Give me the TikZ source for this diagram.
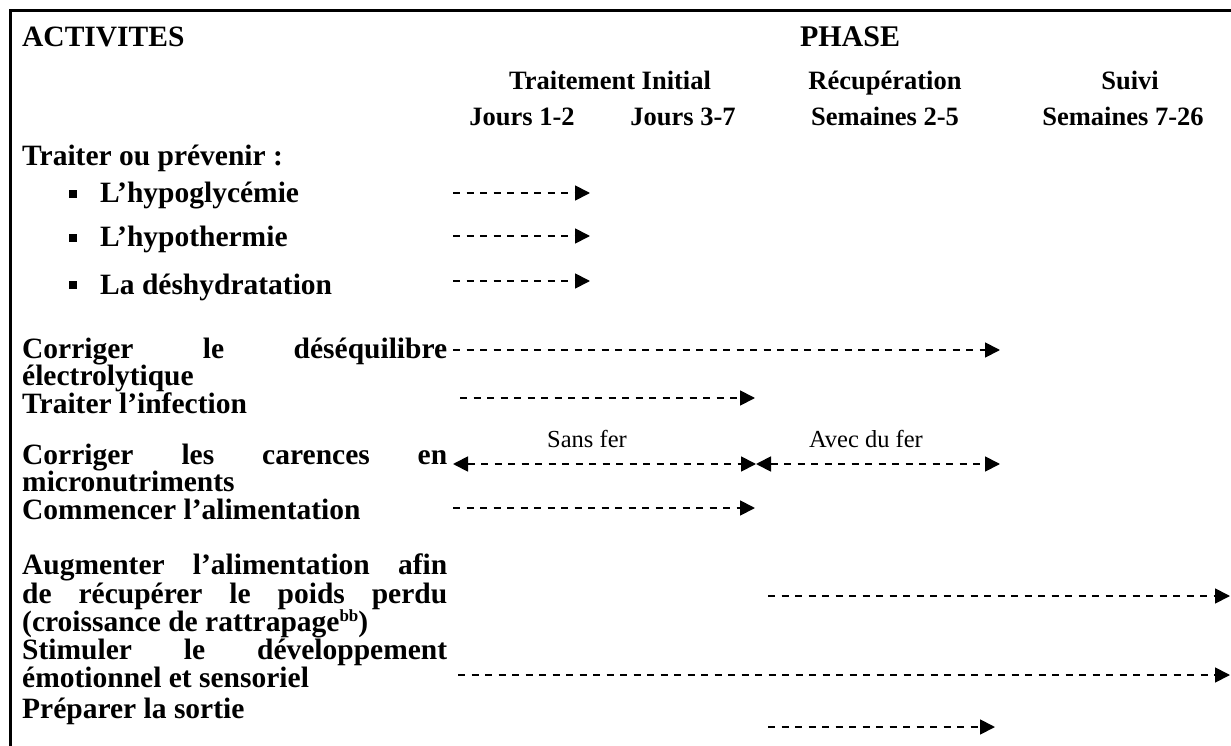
\documentclass[tikz,border=0pt]{standalone}
\usepackage{fontspec}
\setmainfont{Liberation Serif}
\usetikzlibrary{arrows.meta}
\begin{document}
\begin{tikzpicture}[x=1pt,y=-1pt,
  lbl/.style={anchor=base west, inner sep=0pt, font=\fontsize{29.5}{29.5}\selectfont\bfseries},
  head/.style={anchor=base, inner sep=0pt, font=\fontsize{30}{30}\selectfont\bfseries},
  sub/.style={anchor=base, inner sep=0pt, font=\fontsize{26.5}{26.5}\selectfont\bfseries},
  note/.style={anchor=base, inner sep=0pt, font=\fontsize{24.5}{24.5}\selectfont},
  bul/.style={fill=black, inner sep=0pt, minimum size=7.5pt, rectangle},
  period/.style={line width=1.8pt, dash pattern=on 7pt off 6.5pt,
    -{Triangle[length=15pt,width=15pt]}},
  both/.style={line width=1.8pt, dash pattern=on 7pt off 6.5pt,
    {Triangle[length=15pt,width=15pt]}-{Triangle[length=15pt,width=15pt]}}
]
\fill[white] (0,0) rectangle (1231,746);
\useasboundingbox (0,0) rectangle (1231,746);

% frame
\draw[line width=2.8pt, line join=miter] (10.5,746) -- (10.5,10.5) -- (1231,10.5);

% header
\node[lbl]  (act)   at (22,47)   {ACTIVITES};
\node[head] (phase) at (850,47)  {PHASE};
\node[sub]  (ti)    at (610,90)  {Traitement Initial};
\node[sub]  (rec)   at (885,90)  {Récupération};
\node[sub]  (suivi) at (1130,90) {Suivi};
\node[sub]  (j12)   at (522,126) {Jours 1-2};
\node[sub]  (j37)   at (683,126) {Jours 3-7};
\node[sub]  (s25)   at (885,126) {Semaines 2-5};
\node[sub]  (s726)  at (1123,126){Semaines 7-26};

% activities
\node[lbl] (tp) at (22,166) {Traiter ou prévenir :};
\node[bul] (b1) at (73,194) {};
\node[bul] (b2) at (73,238) {};
\node[bul] (b3) at (73,285) {};
\node[lbl] (h1) at (100,203) {L’hypoglycémie};
\node[lbl] (h2) at (100,246) {L’hypothermie};
\node[lbl] (h3) at (100,294) {La déshydratation};

\node[lbl] (c1) at (22,358) {\makebox[425pt][s]{Corriger le déséquilibre}};
\node[lbl] (c2) at (22,385) {électrolytique};
\node[lbl] (inf) at (22,413) {Traiter l’infection};
\node[lbl] (car1) at (22,464) {\makebox[425pt][s]{Corriger les carences en}};
\node[lbl] (car2) at (22,491) {micronutriments};
\node[lbl] (com) at (22,519) {Commencer l’alimentation};
\node[lbl] (aug1) at (22,574) {\makebox[425pt][s]{Augmenter l’alimentation afin}};
\node[lbl] (aug2) at (22,603) {\makebox[425pt][s]{de récupérer le poids perdu}};
\node[lbl] (aug3) at (22,631) {(croissance de rattrapage\raisebox{10pt}{\fontsize{17}{17}\selectfont bb})};
\node[lbl] (sti1) at (22,659) {\makebox[425pt][s]{Stimuler le développement}};
\node[lbl] (sti2) at (22,687) {émotionnel et sensoriel};
\node[lbl] (pre) at (22,718) {Préparer la sortie};

% iron labels
\node[note] (sf) at (587,447) {Sans fer};
\node[note] (af) at (866,447) {Avec du fer};

% timeline end points
\coordinate (p1s) at (453,193);  \coordinate (p1e) at (590,193);
\coordinate (p2s) at (453,236);  \coordinate (p2e) at (590,236);
\coordinate (p3s) at (453,281);  \coordinate (p3e) at (590,281);
\coordinate (p4s) at (453,350);  \coordinate (p4e) at (1000,350);
\coordinate (p5s) at (460,398);  \coordinate (p5e) at (755,398);
\coordinate (p6s) at (453,464);  \coordinate (p6m) at (756,464);
\coordinate (p6e) at (1000,464);
\coordinate (p7s) at (453,508);  \coordinate (p7e) at (755,508);
\coordinate (p8s) at (768,596);  \coordinate (p8e) at (1230,596);
\coordinate (p9s) at (458,675);  \coordinate (p9e) at (1230,675);
\coordinate (p10s) at (768,727); \coordinate (p10e) at (995,727);

\draw[period] (p1s) -- (p1e);
\draw[period] (p2s) -- (p2e);
\draw[period] (p3s) -- (p3e);
\draw[period] (p4s) -- (p4e);
\draw[period] (p5s) -- (p5e);
\draw[both]   (p6s) -- (p6m);
\draw[both]   (p6m) -- (p6e);
\draw[period] (p7s) -- (p7e);
\draw[period] (p8s) -- (p8e);
\draw[period] (p9s) -- (p9e);
\draw[period] (p10s) -- (p10e);
\end{tikzpicture}
\end{document}
